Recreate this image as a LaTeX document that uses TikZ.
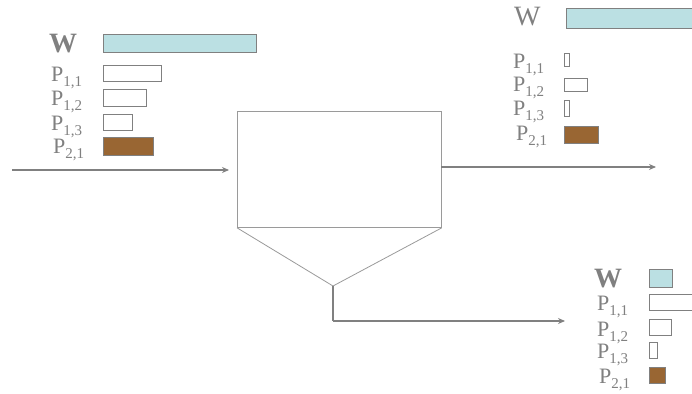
\documentclass[tikz,border=0pt]{standalone}
\usepackage{fontspec}
\setmainfont{Liberation Serif}
\usetikzlibrary{arrows.meta}
\definecolor{txtgray}{HTML}{808080}
\definecolor{linegray}{HTML}{808080}
\definecolor{thingray}{HTML}{9A9A9A}
\definecolor{wcyan}{HTML}{BBE0E3}
\definecolor{pbrown}{HTML}{996633}
\newcommand{\Wlab}{\fontsize{28}{28}\selectfont W}
\newcommand{\Wblab}{\fontsize{28}{28}\selectfont\bfseries W}
\newcommand{\Plab}[1]{\fontsize{22}{22}\selectfont P\raisebox{-5pt}{\fontsize{15}{15}\selectfont #1}}
\tikzset{
  lab/.style={anchor=base west, inner sep=0pt, text=txtgray, font=\rmfamily},
  bar/.style={draw=linegray, line width=1pt, fill=white},
  wbar/.style={bar, fill=wcyan},
  bbar/.style={bar, fill=pbrown},
  flow/.style={draw=linegray, line width=2pt, -{Stealth[length=7pt,width=6pt]}},
  vessel/.style={draw=thingray, line width=0.8pt},
}
\newcommand{\barat}[5]{\draw[#1] (#2,#3) rectangle (#4,#5);}
\begin{document}
\begin{tikzpicture}[x=1pt,y=-1pt]
\clip (0,0) rectangle (692,393);
\fill[white] (0,0) rectangle (692,393);

% vessel
\node[vessel, rectangle, anchor=north west, minimum width=204pt, minimum height=116pt, inner sep=0pt] (tank) at (237,111) {};
\coordinate (apex) at (333,286);
\draw[vessel] (tank.south west) -- (apex) -- (tank.south east);

% streams
\coordinate (inA) at (12,170);
\coordinate (inB) at (229,170);
\draw[flow] (inA) -- (inB);
\coordinate (topA) at (441,167);
\coordinate (topB) at (656,167);
\draw[flow] (topA) -- (topB);
\coordinate (botC) at (333,321);
\coordinate (botB) at (565,321);
\draw[flow, -] (apex) -- (botC);
\draw[flow] (botC) -- (botB);

% left group
\node[lab] (lW) at (49,53) {\Wblab};
\node[lab] (lP11) at (51,82) {\Plab{1,1}};
\node[lab] (lP12) at (51,106) {\Plab{1,2}};
\node[lab] (lP13) at (51,130) {\Plab{1,3}};
\node[lab] (lP21) at (53,153) {\Plab{2,1}};
\barat{wbar}{103}{35}{256}{53}
\barat{bar}{103}{66}{161}{82}
\barat{bar}{103}{90}{146}{106}
\barat{bar}{103}{114}{132}{130}
\barat{bbar}{103}{137}{153}{155}

% top right group
\node[lab] (tW) at (514,26) {\Wlab};
\node[lab] (tP11) at (513,69) {\Plab{1,1}};
\node[lab] (tP12) at (513,92) {\Plab{1,2}};
\node[lab] (tP13) at (513,115) {\Plab{1,3}};
\node[lab] (tP21) at (516,140) {\Plab{2,1}};
\barat{wbar}{566}{9}{700}{29}
\barat{bar}{564}{54}{569}{67}
\barat{bar}{564}{79}{587}{92}
\barat{bar}{564}{101}{569}{116}
\barat{bbar}{564}{126}{598}{143}

% bottom right group
\node[lab] (bW) at (594,287) {\Wblab};
\node[lab] (bP11) at (597,310) {\Plab{1,1}};
\node[lab] (bP12) at (597,336) {\Plab{1,2}};
\node[lab] (bP13) at (597,358) {\Plab{1,3}};
\node[lab] (bP21) at (599,383) {\Plab{2,1}};
\barat{wbar}{649}{269}{672}{287}
\barat{bar}{649}{294}{700}{310}
\barat{bar}{649}{319}{671}{335}
\barat{bar}{649}{342}{657}{358}
\barat{bbar}{649}{367}{665}{383}
\end{tikzpicture}
\end{document}
